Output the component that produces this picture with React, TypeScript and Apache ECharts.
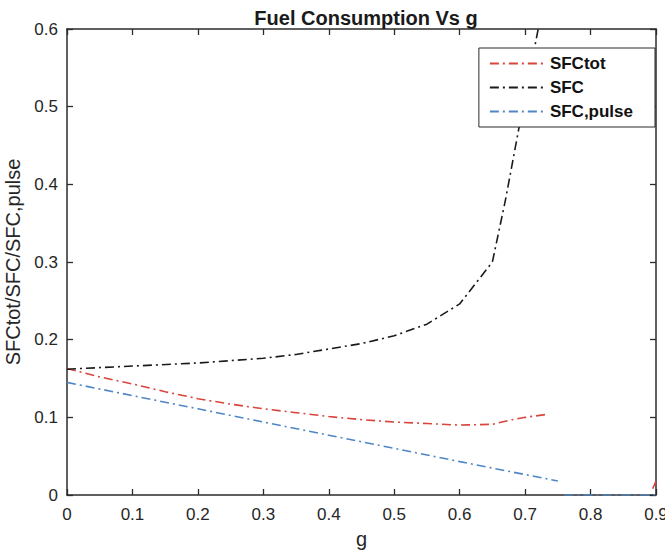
import React, { useEffect, useRef } from "react";
import * as echarts from "echarts";

const title = "Fuel Consumption Vs g";
const xName = "g";
const yName = "SFCtot/SFC/SFC,pulse";
const seriesNames = ["SFCtot", "SFC", "SFC,pulse"];

const sfcTot: (number | null)[][] = [
  [0, 0.163], [0.05, 0.152], [0.1, 0.143], [0.15, 0.133], [0.2, 0.124],
  [0.25, 0.117], [0.3, 0.111], [0.35, 0.106], [0.4, 0.101], [0.45, 0.097],
  [0.5, 0.094], [0.55, 0.092], [0.6, 0.09], [0.65, 0.091], [0.68, 0.097],
  [0.7, 0.1], [0.735, 0.104], [0.74, null], [0.895, 0.008], [0.9, 0.018],
];

const sfc: number[][] = [
  [0, 0.162], [0.1, 0.166], [0.2, 0.17], [0.3, 0.176], [0.35, 0.181],
  [0.4, 0.188], [0.45, 0.195], [0.5, 0.205], [0.55, 0.22], [0.6, 0.246],
  [0.65, 0.3], [0.67, 0.38], [0.69, 0.47], [0.72, 0.6], [0.73, 0.65],
];

const sfcPulse: (number | null)[][] = [
  [0, 0.145], [0.2, 0.111], [0.4, 0.077], [0.6, 0.043], [0.75, 0.018],
  [0.755, null], [0.76, 0], [0.9, 0],
];

const xTicks = { min: 0, max: 0.9, interval: 0.1 };
const yTicks = { min: 0, max: 0.6, interval: 0.1 };

const colors = ["#d9443c", "#1a1a1a", "#4f86c8"];

export default function App() {
  const ref = useRef<HTMLDivElement>(null);
  useEffect(() => {
    const chart = echarts.init(ref.current!, undefined, { renderer: "svg" });
    const axisColor = "#2b2b2b";
    const font = "Liberation Sans, Arial, sans-serif";
    const dash = [9, 4, 2, 4];
    const mkSeries = (name: string, data: any[], color: string) => ({
      name,
      type: "line",
      data,
      showSymbol: false,
      symbol: "none",
      connectNulls: false,
      clip: true,
      lineStyle: { color, width: 1.6, type: dash },
      itemStyle: { color },
      z: 2,
    });
    chart.setOption({
      animation: false,
      backgroundColor: "#ffffff",
      title: {
        text: title,
        left: 361,
        textAlign: "center",
        top: 3,
        textStyle: { fontFamily: font, fontSize: 20, fontWeight: "bold", color: "#1a1a1a" },
      },
      legend: {
        right: 10,
        top: 48,
        orient: "vertical",
        backgroundColor: "#ffffff",
        borderColor: axisColor,
        borderWidth: 1,
        borderRadius: 0,
        padding: [7, 22, 7, 10],
        itemGap: 7,
        itemWidth: 55,
        itemHeight: 14,
        itemStyle: { opacity: 0 },
        textStyle: { fontFamily: font, fontSize: 17, fontWeight: "bold", color: "#111" },
        data: seriesNames,
        z: 10,
      },
      grid: { left: 67, right: 9, top: 29, bottom: 59, outerBoundsMode: "none" },
      xAxis: [
        {
          type: "value",
          ...xTicks,
          name: xName,
          nameLocation: "middle",
          nameGap: 34,
          nameTextStyle: { fontFamily: font, fontSize: 20, color: "#262626" },
          axisLine: { show: true, onZero: false, lineStyle: { color: axisColor, width: 1.5 } },
          axisTick: { show: true, inside: true, length: 6, lineStyle: { color: axisColor, width: 1.3 } },
          axisLabel: { fontFamily: font, fontSize: 17, color: "#262626", margin: 11, formatter: (v: number) => String(+v.toFixed(1)) },
          splitLine: { show: false },
        },
        {
          type: "value",
          position: "top",
          ...xTicks,
          axisLine: { show: true, onZero: false, lineStyle: { color: axisColor, width: 1.5 } },
          axisTick: { show: true, inside: true, length: 6, lineStyle: { color: axisColor, width: 1.3 } },
          axisLabel: { show: false },
          splitLine: { show: false },
        },
      ],
      yAxis: [
        {
          type: "value",
          ...yTicks,
          name: yName,
          nameLocation: "middle",
          nameGap: 25,
          nameTextStyle: { fontFamily: font, fontSize: 20, color: "#262626" },
          axisLine: { show: true, onZero: false, lineStyle: { color: axisColor, width: 1.5 } },
          axisTick: { show: true, inside: true, length: 6, lineStyle: { color: axisColor, width: 1.3 } },
          axisLabel: { fontFamily: font, fontSize: 17, color: "#262626", margin: 9, formatter: (v: number) => String(+v.toFixed(1)) },
          splitLine: { show: false },
        },
        {
          type: "value",
          position: "right",
          ...yTicks,
          axisLine: { show: true, onZero: false, lineStyle: { color: axisColor, width: 1.5 } },
          axisTick: { show: true, inside: true, length: 6, lineStyle: { color: axisColor, width: 1.3 } },
          axisLabel: { show: false },
          splitLine: { show: false },
        },
      ],
      series: [
        mkSeries(seriesNames[0], sfcTot, colors[0]),
        mkSeries(seriesNames[1], sfc, colors[1]),
        mkSeries(seriesNames[2], sfcPulse, colors[2]),
      ],
    });
    return () => chart.dispose();
  }, []);
  return (
    <div
      ref={ref}
      style={{ position: "fixed", left: 0, top: 0, width: 665, height: 554, background: "#fff" }}
    />
  );
}
